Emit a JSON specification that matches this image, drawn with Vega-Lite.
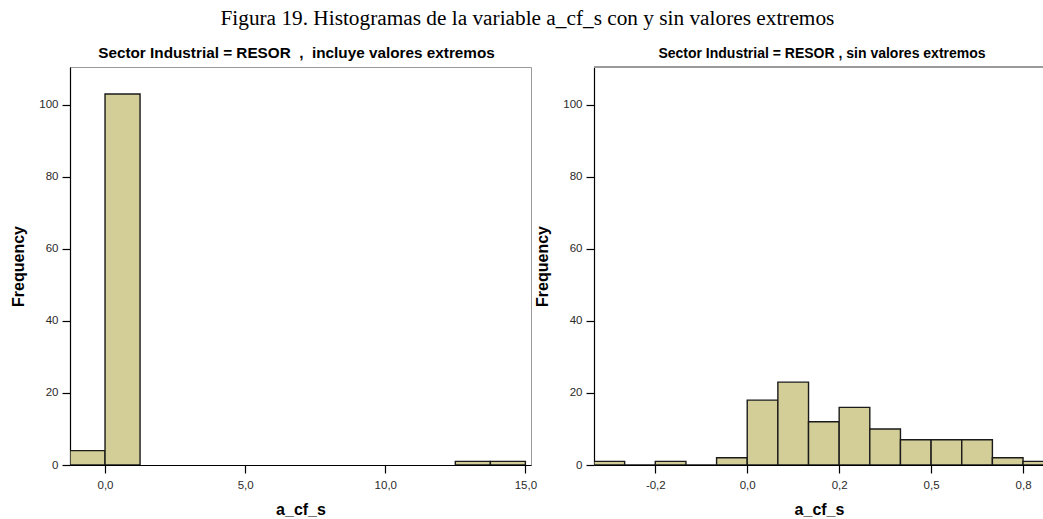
{
  "$schema": "https://vega.github.io/schema/vega-lite/v6.json",
  "background": "white",
  "padding": {"left": 10, "top": 7, "right": 0, "bottom": 0},
  "autosize": {"type": "pad"},
  "title": {
    "text": "Figura 19. Histogramas de la variable a_cf_s con y sin valores extremos",
    "font": "Liberation Serif",
    "fontSize": 21.3,
    "fontWeight": "normal",
    "color": "#000000",
    "anchor": "middle",
    "offset": 16
  },
  "bounds": "flush",
  "spacing": 63,
  "hconcat": [
    {
      "width": 461,
      "height": 398,
      "title": {"text": "Sector Industrial = RESOR \u00a0, \u00a0incluye valores extremos", "fontSize": 15.3, "dx": -4},
      "data": {
        "values": [
          {"bin_start": -1.25, "bin_end": 0, "count": 4},
          {"bin_start": 0, "bin_end": 1.25, "count": 103},
          {"bin_start": 12.5, "bin_end": 13.75, "count": 1},
          {"bin_start": 13.75, "bin_end": 15, "count": 1}
        ]
      },
      "mark": {"type": "bar", "fill": "#d3ce97", "stroke": "#1a1a1a", "strokeWidth": 1.4, "clip": true},
      "encoding": {
        "x": {
          "field": "bin_start",
          "type": "quantitative",
          "scale": {"domain": [-1.25, 15.2], "nice": false, "zero": false},
          "axis": {
            "title": "a_cf_s",
            "values": [0, 5, 10, 15],
            "labelExpr": "replace(format(datum.value, '.1f'), '.', ',')"
          }
        },
        "x2": {"field": "bin_end"},
        "y": {
          "field": "count",
          "type": "quantitative",
          "scale": {"domain": [0, 110.5], "nice": false},
          "axis": {"title": "Frequency", "values": [0, 20, 40, 60, 80, 100]}
        },
        "y2": {"datum": 0}
      }
    },
    {
      "width": 450,
      "height": 398,
      "view": {"stroke": null},
      "title": {"text": "Sector Industrial = RESOR , sin valores extremos", "fontSize": 14, "dx": 3},
      "data": {
        "values": [
          {"bin_start": -0.41667, "bin_end": -0.33333, "count": 1},
          {"bin_start": -0.33333, "bin_end": -0.25, "count": 0},
          {"bin_start": -0.25, "bin_end": -0.16667, "count": 1},
          {"bin_start": -0.16667, "bin_end": -0.08333, "count": 0},
          {"bin_start": -0.08333, "bin_end": 0, "count": 2},
          {"bin_start": 0, "bin_end": 0.08333, "count": 18},
          {"bin_start": 0.08333, "bin_end": 0.16667, "count": 23},
          {"bin_start": 0.16667, "bin_end": 0.25, "count": 12},
          {"bin_start": 0.25, "bin_end": 0.33333, "count": 16},
          {"bin_start": 0.33333, "bin_end": 0.41667, "count": 10},
          {"bin_start": 0.41667, "bin_end": 0.5, "count": 7},
          {"bin_start": 0.5, "bin_end": 0.58333, "count": 7},
          {"bin_start": 0.58333, "bin_end": 0.66667, "count": 7},
          {"bin_start": 0.66667, "bin_end": 0.75, "count": 2},
          {"bin_start": 0.75, "bin_end": 0.83333, "count": 1}
        ]
      },
      "layer": [
        {
          "mark": {"type": "bar", "fill": "#d3ce97", "stroke": "#1a1a1a", "strokeWidth": 1.4, "clip": true},
          "encoding": {
            "x": {
              "field": "bin_start",
              "type": "quantitative",
              "scale": {"domain": [-0.41667, 0.807], "nice": false, "zero": false},
              "axis": {
                "title": "a_cf_s",
                "values": [-0.25, 0, 0.25, 0.5, 0.75],
                "labelExpr": "datum.value == -0.25 ? '-0,2' : datum.value == 0 ? '0,0' : datum.value == 0.25 ? '0,2' : datum.value == 0.5 ? '0,5' : '0,8'"
              }
            },
            "x2": {"field": "bin_end"},
            "y": {
              "field": "count",
              "type": "quantitative",
              "scale": {"domain": [0, 110.5], "nice": false},
              "axis": {"title": "Frequency", "values": [0, 20, 40, 60, 80, 100]}
            },
            "y2": {"datum": 0}
          }
        },
        {
          "mark": {"type": "rule", "color": "#9a9a9a", "strokeWidth": 1},
          "encoding": {"y": {"datum": 110.5}}
        }
      ]
    }
  ],
  "config": {
    "view": {"stroke": "#9a9a9a", "strokeWidth": 1},
    "title": {
      "font": "Liberation Sans",
      "fontSize": 15.3,
      "fontWeight": "bold",
      "color": "#000000",
      "anchor": "middle",
      "offset": 6
    },
    "axis": {
      "grid": false,
      "domainColor": "#000000",
      "domainWidth": 1.2,
      "tickColor": "#000000",
      "tickSize": 8,
      "tickWidth": 1.2,
      "labelFont": "Liberation Sans",
      "labelFontSize": 11.5,
      "labelColor": "#2a2a2a",
      "labelPadding": 3,
      "titleFont": "Liberation Sans",
      "titleFontSize": 16,
      "titleFontWeight": "bold",
      "titleColor": "#000000"
    },
    "axisX": {"titlePadding": 11, "labelPadding": 6},
    "axisY": {"titlePadding": 12, "labelPadding": 4}
  }
}
